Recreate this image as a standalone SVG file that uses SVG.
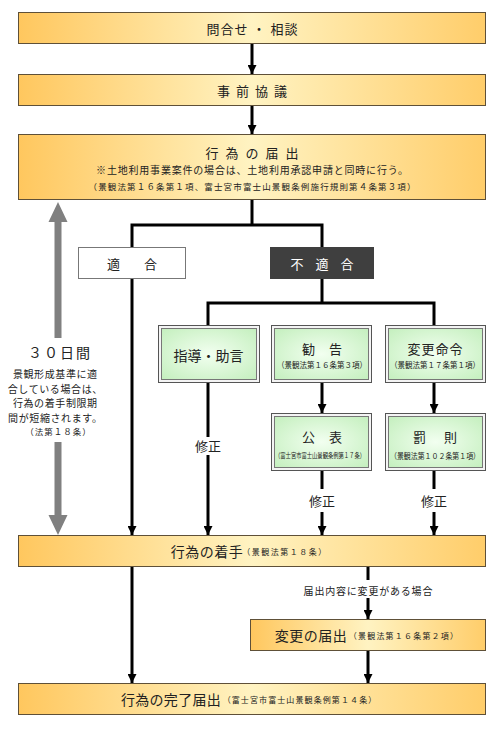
<svg xmlns="http://www.w3.org/2000/svg" width="500" height="729" viewBox="0 0 500 729">
<defs>
<linearGradient id="og" x1="0" y1="0" x2="1" y2="0">
<stop offset="0" stop-color="#ffc75e"/>
<stop offset="0.5" stop-color="#fff3c2"/>
<stop offset="1" stop-color="#ffcd6a"/>
</linearGradient>
<radialGradient id="gg" cx="0.5" cy="0.5" r="0.7">
<stop offset="0" stop-color="#f2fff0"/>
<stop offset="1" stop-color="#c4efbe"/>
</radialGradient>
<marker id="ah" viewBox="0 0 10 10" refX="10" refY="5" markerWidth="9" markerHeight="9" markerUnits="userSpaceOnUse" orient="auto">
<path d="M0,0 L10,5 L0,10 z" fill="#000"/>
</marker>
<style>
.ob{fill:url(#og);stroke:#5e5038;stroke-width:1}
.go{fill:#f4f4f4;stroke:#555;stroke-width:1}
.gi{fill:url(#gg);stroke:#777;stroke-width:1}
.c{fill:none;stroke:#000;stroke-width:3}
.t{font-family:"Noto Sans CJK JP","Noto Sans",sans-serif;fill:#222;text-anchor:middle;dominant-baseline:central}
.t13{font-size:13px}
.t14{font-size:14px}
.t10{font-size:10px}
.t8{font-size:8px}
</style>
</defs>
<rect width="500" height="729" fill="#fff"/>

<g id="n-toiawase">
<rect class="ob" x="18.5" y="12.5" width="467" height="31"/>
<text class="t t13" x="252.5" y="28" letter-spacing="1">問合せ ・ 相談</text>
</g>
<g id="n-jizen">
<rect class="ob" x="18.5" y="74.5" width="467" height="31"/>
<text class="t t13" x="255" y="90" letter-spacing="6">事前協議</text>
</g>
<g id="n-todokede">
<rect class="ob" x="18.5" y="134.5" width="467" height="65"/>
<text class="t t13" x="255.5" y="152" letter-spacing="7">行為の届出</text>
<text class="t t10" x="252.4" y="169" letter-spacing="0.8">※土地利用事業案件の場合は、土地利用承認申請と同時に行う。</text>
<text class="t" x="252" y="186" font-size="8.5" textLength="327" lengthAdjust="spacing">（景観法第１６条第１項、富士宮市富士山景観条例施行規則第４条第３項）</text>
</g>
<g id="n-tekigo">
<rect x="78.5" y="247.5" width="107" height="31" fill="#fff" stroke="#777" stroke-width="1"/>
<text class="t t13" x="144" y="263" letter-spacing="24">適合</text>
</g>
<g id="n-futekigo">
<rect x="270" y="247" width="104" height="32" fill="#3f3f3f"/>
<text class="t t13" x="328" y="263" letter-spacing="12" style="fill:#fff">不適合</text>
</g>
<g id="n-shido">
<rect class="go" x="158.5" y="325.5" width="101" height="57"/>
<rect class="gi" x="161.5" y="328.5" width="95" height="51"/>
<text class="t t14" x="208.5" y="355">指導・助言</text>
</g>
<g id="n-kankoku">
<rect class="go" x="271.5" y="325.5" width="100" height="57"/>
<rect class="gi" x="274.5" y="328.5" width="94" height="51"/>
<text class="t t13" x="329" y="348" letter-spacing="14">勧告</text>
<text class="t t8" x="322" y="364" textLength="90" lengthAdjust="spacingAndGlyphs">（景観法第１６条第３項）</text>
</g>
<g id="n-henko-meirei">
<rect class="go" x="385.5" y="325.5" width="100" height="57"/>
<rect class="gi" x="388.5" y="328.5" width="94" height="51"/>
<text class="t t13" x="435.5" y="348" letter-spacing="1">変更命令</text>
<text class="t t8" x="435" y="364" textLength="90" lengthAdjust="spacingAndGlyphs">（景観法第１７条第１項）</text>
</g>
<g id="n-kohyo">
<rect class="go" x="271.5" y="413.5" width="100" height="57"/>
<rect class="gi" x="274.5" y="416.5" width="94" height="51"/>
<text class="t t13" x="329" y="436" letter-spacing="14">公表</text>
<text class="t" x="320" y="455" font-size="7" textLength="90" lengthAdjust="spacingAndGlyphs">（富士宮市富士山景観条例第１７条）</text>
</g>
<g id="n-bassoku">
<rect class="go" x="385.5" y="413.5" width="100" height="57"/>
<rect class="gi" x="388.5" y="416.5" width="94" height="51"/>
<text class="t t13" x="444" y="436" letter-spacing="18">罰則</text>
<text class="t t8" x="435" y="455" textLength="90" lengthAdjust="spacingAndGlyphs">（景観法第１０２条第１項）</text>
</g>
<g id="n-chakushu">
<rect class="ob" x="18.5" y="535.5" width="467" height="31"/>
<text class="t t14" x="207" y="551" letter-spacing="0.5">行為の着手</text>
<text class="t t8" x="285" y="551" letter-spacing="1.5">（景観法第１８条）</text>
</g>
<g id="n-henko-todoke">
<rect class="ob" x="250.5" y="619.5" width="235" height="31"/>
<text class="t t14" x="311" y="635" letter-spacing="0.5">変更の届出</text>
<text class="t t8" x="404" y="635" letter-spacing="1.2">（景観法第１６条第２項）</text>
</g>
<g id="n-kanryo">
<rect class="ob" x="18.5" y="683.5" width="467" height="31"/>
<text class="t t14" x="171" y="699" letter-spacing="0.3">行為の完了届出</text>
<text class="t t8" x="300" y="699" letter-spacing="1.1">（富士宮市富士山景観条例第１４条）</text>
</g>
<g id="n-30days">
<text class="t" x="60" y="352" font-size="14" letter-spacing="2">３０日間</text>
<text class="t t10" x="55.3" y="373" letter-spacing="0.6">景観形成基準に適</text>
<text class="t t10" x="55.3" y="388" letter-spacing="0.6">合している場合は、</text>
<text class="t t10" x="55.3" y="402" letter-spacing="0.6">行為の着手制限期</text>
<text class="t t10" x="55.3" y="417" letter-spacing="0.6">間が短縮されます。</text>
<text class="t" x="58.5" y="431" font-size="8.5" letter-spacing="1">（法第１８条）</text>
</g>

<g id="connectors">
<path class="c" d="M252,44 V74" marker-end="url(#ah)"/>
<path class="c" d="M252,106 V134" marker-end="url(#ah)"/>
<path class="c" d="M252,200 V225"/>
<path class="c" d="M132,247 V225 H322 V247"/>
<path class="c" d="M132,279 V535" marker-end="url(#ah)"/>
<path class="c" d="M322,279 V303"/>
<path class="c" d="M208,325 V303 H434 V325"/>
<path class="c" d="M208,383 V437"/>
<path class="c" d="M208,455 V535" marker-end="url(#ah)"/>
<path class="c" d="M322,383 V413" marker-end="url(#ah)"/>
<path class="c" d="M434,383 V413" marker-end="url(#ah)"/>
<path class="c" d="M322,471 V489"/>
<path class="c" d="M322,512 V535" marker-end="url(#ah)"/>
<path class="c" d="M434,471 V489"/>
<path class="c" d="M434,512 V535" marker-end="url(#ah)"/>
<path class="c" d="M132,567 V683" marker-end="url(#ah)"/>
<path class="c" d="M368,567 V580"/>
<path class="c" d="M368,598 V619" marker-end="url(#ah)"/>
<path class="c" d="M368,651 V683" marker-end="url(#ah)"/>
<polygon points="58,202 67.5,222 61.5,222 61.5,338 54.5,338 54.5,222 48.5,222" fill="#808080"/>
<polygon points="54.5,442 61.5,442 61.5,515 67.5,515 58,535 48.5,515 54.5,515" fill="#808080"/>
<text class="t t13" x="208" y="445">修正</text>
<text class="t t13" x="322" y="500">修正</text>
<text class="t t13" x="434" y="500">修正</text>
<text class="t t10" x="368.4" y="590" letter-spacing="0.8">届出内容に変更がある場合</text>
</g>
</svg>
